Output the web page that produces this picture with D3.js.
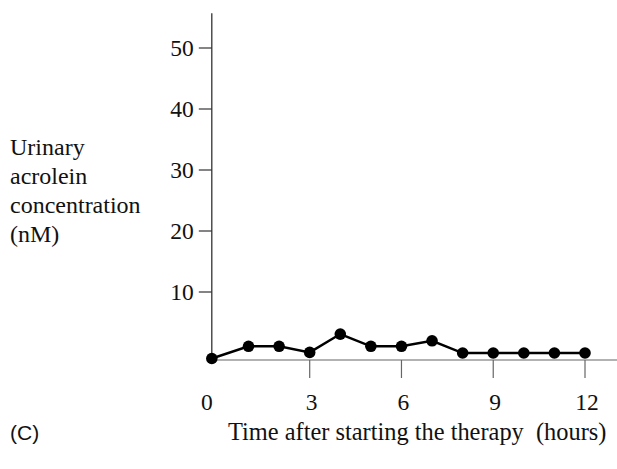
<!DOCTYPE html>
<html>
<head>
<meta charset="utf-8">
<script src="https://cdn.jsdelivr.net/npm/d3@7"></script>
<style>
  html, body { margin: 0; padding: 0; background: #fff; }
  svg { display: block; }
</style>
</head>
<body>
<svg id="chart" width="617" height="469"></svg>
<script>
// Data
const hours = [-0.2, 1, 2, 3, 4, 5, 6, 7, 8, 9, 10, 11, 12];
const acrolein = [-0.9, 1.1, 1.1, 0.1, 3.1, 1.1, 1.1, 2.0, 0.0, 0.0, 0.0, 0.0, 0.0];
const xTicks = [0, 3, 6, 9, 12];
const yTicks = [10, 20, 30, 40, 50];
const yLabelLines = ["Urinary", "acrolein", "concentration", "(nM)"];
const xTitle = "Time after starting the therapy  (hours)";
const panelLabel = "(C)";

const svg = d3.select("#chart");
const serif = "'Liberation Serif', 'Times New Roman', serif";

const x = d3.scaleLinear().domain([3, 12]).range([309.7, 585]);
const y = d3.scaleLinear().domain([10, 50]).range([292, 48]);

const xMin = -0.2;             // y-axis position
const yMin = -1.15;            // x-axis position
const yMax = 55.7;             // top of y-axis

// x axis line
svg.append("line")
  .attr("x1", x(xMin)).attr("x2", 617)
  .attr("y1", y(yMin)).attr("y2", y(yMin))
  .attr("stroke", "#666").attr("stroke-width", 1.2);

// x ticks (downward)
svg.selectAll(".xt").data(xTicks.filter(d => d > 0)).enter().append("line")
  .attr("x1", d => x(d)).attr("x2", d => x(d))
  .attr("y1", y(yMin)).attr("y2", y(yMin) + 18)
  .attr("stroke", "#666").attr("stroke-width", 1.2);

svg.selectAll(".xl").data(xTicks).enter().append("text")
  .attr("x", d => x(d) - (d === 0 ? 11 : -2))
  .attr("y", 410)
  .attr("text-anchor", "middle")
  .attr("font-family", serif).attr("font-size", 23.5)
  .attr("fill", "#111")
  .text(d => d);

// y axis line
svg.append("line")
  .attr("x1", x(xMin)).attr("x2", x(xMin))
  .attr("y1", y(yMax)).attr("y2", y(yMin))
  .attr("stroke", "#222").attr("stroke-width", 1.2);

svg.selectAll(".yt").data(yTicks).enter().append("line")
  .attr("x1", x(xMin) - 13).attr("x2", x(xMin))
  .attr("y1", d => y(d)).attr("y2", d => y(d))
  .attr("stroke", "#333").attr("stroke-width", 1.2);

svg.selectAll(".yl").data(yTicks).enter().append("text")
  .attr("x", x(xMin) - 18)
  .attr("y", d => y(d) + 8)
  .attr("text-anchor", "end")
  .attr("font-family", serif).attr("font-size", 23.5)
  .attr("fill", "#111")
  .text(d => d);

// y label (multi-line, left)
svg.selectAll(".ylab").data(yLabelLines).enter().append("text")
  .attr("x", 10)
  .attr("y", (d, i) => 155 + i * 29)
  .attr("font-family", serif).attr("font-size", 24)
  .attr("fill", "#111")
  .text(d => d);

// x title
svg.append("text")
  .attr("x", 228).attr("y", 440)
  .attr("font-family", serif).attr("font-size", 24.4)
  .attr("fill", "#111")
  .style("white-space", "pre")
  .attr("xml:space", "preserve")
  .text(xTitle);

svg.append("text")
  .attr("x", 10).attr("y", 440)
  .attr("font-family", "'Liberation Sans', Arial, sans-serif").attr("font-size", 21)
  .attr("fill", "#111")
  .text(panelLabel);

// data line and points
const pts = hours.map((h, i) => [h, acrolein[i]]);
svg.append("path")
  .datum(pts)
  .attr("fill", "none")
  .attr("stroke", "#000").attr("stroke-width", 2.4)
  .attr("d", d3.line().x(d => x(d[0])).y(d => y(d[1])));

svg.selectAll(".pt").data(pts).enter().append("circle")
  .attr("cx", d => x(d[0])).attr("cy", d => y(d[1]))
  .attr("r", 5.8)
  .attr("fill", "#000");
</script>
</body>
</html>
